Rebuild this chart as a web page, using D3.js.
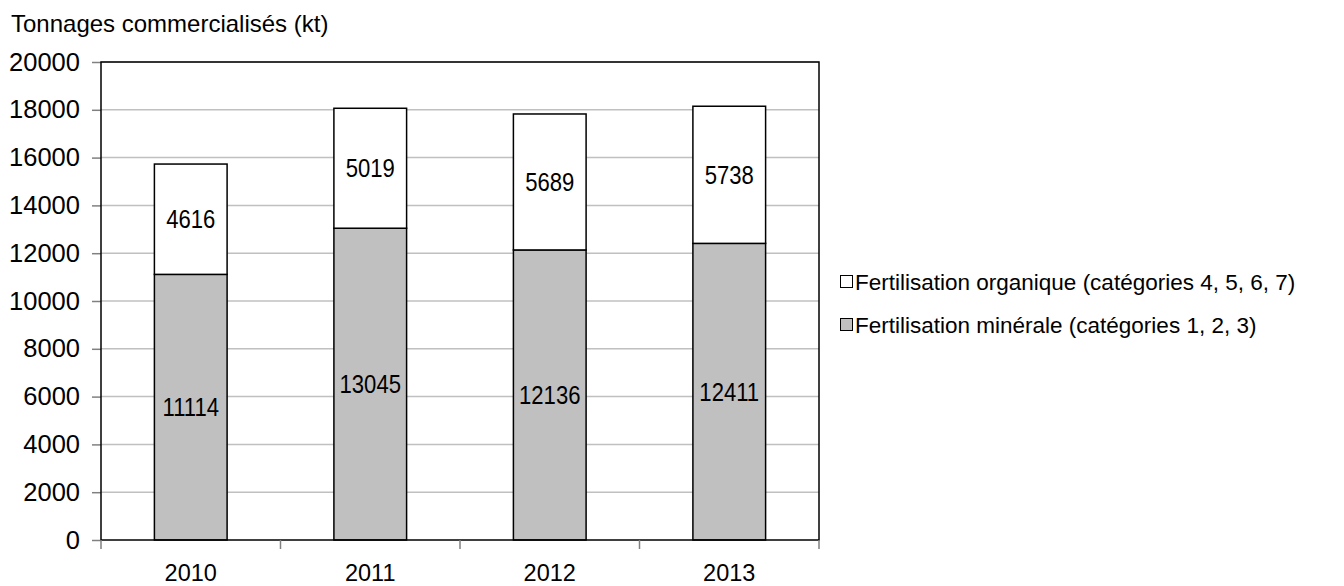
<!DOCTYPE html>
<html>
<head>
<meta charset="utf-8">
<script src="https://cdn.jsdelivr.net/npm/d3@7"></script>
<style>
  html, body { margin: 0; padding: 0; background: #fff; }
  svg { display: block; font-family: "Liberation Sans", Arial, sans-serif; }
</style>
</head>
<body>
<svg id="chart" width="1344" height="586"></svg>
<script>
const years = ["2010", "2011", "2012", "2013"];
const minerale = [11114, 13045, 12136, 12411];
const organique = [4616, 5019, 5689, 5738];
const yTicks = [0, 2000, 4000, 6000, 8000, 10000, 12000, 14000, 16000, 18000, 20000];
const seriesNames = ["Fertilisation organique (catégories 4, 5, 6, 7)", "Fertilisation minérale (catégories 1, 2, 3)"];
const titleText = "Tonnages commercialisés (kt)";

const svg = d3.select("#chart");
const pL = 101, pR = 819, pT = 62, pB = 540;

const x = d3.scaleBand().domain(years).range([pL, pR]).paddingInner(0.595).paddingOuter(0.2975);
const y = d3.scaleLinear().domain([0, 20000]).range([pB, pT]);

// gridlines
svg.append("g").selectAll("line").data(yTicks.filter(d => d > 0)).join("line")
  .attr("x1", pL).attr("x2", pR)
  .attr("y1", d => y(d)).attr("y2", d => y(d))
  .attr("stroke", "#c0c0c0").attr("stroke-width", 1.5);

// y axis
const yAxis = svg.append("g").attr("transform", `translate(${pL},0)`)
  .call(d3.axisLeft(y).tickValues(yTicks).tickSize(9).tickPadding(12).tickFormat(d3.format("d")));
yAxis.select(".domain").remove();
yAxis.selectAll(".tick line").attr("stroke", "#808080").attr("stroke-width", 1.5);
yAxis.selectAll(".tick text").attr("font-size", "25.5px").attr("fill", "#000")
  .attr("font-family", "Liberation Sans, Arial, sans-serif");

// bars
const stacks = years.map((yr, i) => ({ yr, m: minerale[i], o: organique[i] }));
const g = svg.append("g");
g.selectAll("rect.min").data(stacks).join("rect").attr("class", "min")
  .attr("x", d => x(d.yr)).attr("width", x.bandwidth())
  .attr("y", d => y(d.m)).attr("height", d => y(0) - y(d.m))
  .attr("fill", "#c0c0c0").attr("stroke", "#000").attr("stroke-width", 1.5);
g.selectAll("rect.org").data(stacks).join("rect").attr("class", "org")
  .attr("x", d => x(d.yr)).attr("width", x.bandwidth())
  .attr("y", d => y(d.m + d.o)).attr("height", d => y(d.m) - y(d.m + d.o))
  .attr("fill", "#fff").attr("stroke", "#000").attr("stroke-width", 1.5);

// data labels
function label(val, cx, cy) {
  g.append("text")
    .attr("transform", `translate(${cx},${cy}) scale(0.85,1)`)
    .attr("text-anchor", "middle").attr("dominant-baseline", "central")
    .attr("font-size", "26px").attr("fill", "#000").text(val);
}
stacks.forEach(d => {
  const cx = x(d.yr) + x.bandwidth() / 2;
  label(d.m, cx, y(d.m / 2));
  label(d.o, cx, y(d.m + d.o / 2));
});

// plot border
svg.append("rect").attr("x", pL).attr("y", pT).attr("width", pR - pL).attr("height", pB - pT)
  .attr("fill", "none").attr("stroke", "#000").attr("stroke-width", 1.5);

// x axis ticks at band boundaries
const bounds = years.map(yr => x(yr) - x.step() * 0.2975).concat([pR]);
svg.append("g").selectAll("line").data(bounds).join("line")
  .attr("x1", d => d).attr("x2", d => d).attr("y1", pB).attr("y2", pB + 9)
  .attr("stroke", "#808080").attr("stroke-width", 1.5);
svg.append("g").selectAll("text").data(years).join("text")
  .attr("x", d => x(d) + x.bandwidth() / 2).attr("y", 581)
  .attr("text-anchor", "middle").attr("font-size", "23.5px").attr("fill", "#000").text(d => d);

// title
svg.append("text").attr("x", 11).attr("y", 32).attr("font-size", "24px").attr("fill", "#000").text(titleText);

// legend
const legFills = ["#fff", "#c0c0c0"];
const legY = [282, 325];
seriesNames.forEach((name, i) => {
  svg.append("rect").attr("x", 840.5).attr("y", legY[i] - 6.5).attr("width", 12).attr("height", 12)
    .attr("fill", legFills[i]).attr("stroke", "#000").attr("stroke-width", 1);
  svg.append("text").attr("x", 855).attr("y", legY[i]).attr("dominant-baseline", "central")
    .attr("font-size", "22.5px").attr("fill", "#000").text(name);
});
</script>
</body>
</html>
